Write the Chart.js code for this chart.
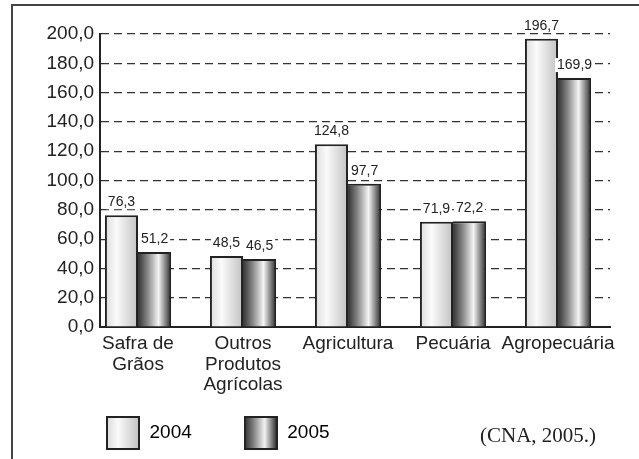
<!DOCTYPE html>
<html>
<head>
<meta charset="utf-8">
<script src="https://cdn.jsdelivr.net/npm/chart.js@4.4.1/dist/chart.umd.min.js"></script>
<style>
    body { margin: 0; background: #fff; }
    #wrap { position: relative; width: 639px; height: 459px; overflow: hidden; background: #fff; }
    #frame { position: absolute; left: 11px; top: 4px; width: 700px; height: 500px;
             border-top: 2px solid #444; border-left: 2px solid #444; }
    #chart { position: absolute; left: 0; top: 0; }
    #source { position: absolute; left: 480px; top: 425px; font: 21px "Liberation Serif", "Times New Roman", serif;
              line-height: 21px; color: #222; white-space: nowrap; }
</style>
</head>
<body>
<div id="wrap">
    <div id="frame"></div>
    <canvas id="chart" width="639" height="459"></canvas>
    <div id="source">(CNA, 2005.)</div>
</div>
<script>
const categories = [['Safra de', 'Grãos'], ['Outros', 'Produtos', 'Agrícolas'], 'Agricultura', 'Pecuária', 'Agropecuária'];
const seriesNames = ['2004', '2005'];
const values2004 = [76.3, 48.5, 124.8, 71.9, 196.7];
const values2005 = [51.2, 46.5, 97.7, 72.2, 169.9];
const yMin = 0;
const yMax = 200;
const yStep = 20;

const CAT_PCT = 0.63;
const stops2004 = [[0, '#dcdcdc'], [0.35, '#fafafa'], [1, '#c2c2c2']];
const stops2005 = [[0, '#333'], [0.3, '#8a8a8a'], [0.62, '#f4f4f4'], [0.85, '#7a7a7a'], [1, '#2a2a2a']];

const fmt = v => v.toFixed(1).replace('.', ',');

Chart.defaults.font.family = '"Liberation Sans", Arial, sans-serif';
Chart.defaults.color = '#222';

function barFill(stops) {
    return (ctx) => {
        const chart = ctx.chart;
        const x = chart.scales.x;
        if (ctx.type !== 'data' || !chart.chartArea || !x) return stops[1][1];
        const step = x.getPixelForValue(1) - x.getPixelForValue(0);
        const w = step * CAT_PCT / 2;
        const left = x.getPixelForValue(ctx.dataIndex) - w + ctx.datasetIndex * w;
        const g = chart.ctx.createLinearGradient(left, 0, left + w, 0);
        stops.forEach(([o, c]) => g.addColorStop(o, c));
        return g;
    };
}

function swatch(stops) {
    const c = document.createElement('canvas');
    c.width = 34;
    c.height = 34;
    const g2 = c.getContext('2d');
    const grad = g2.createLinearGradient(1, 0, 33, 0);
    stops.forEach(([o, col]) => grad.addColorStop(o, col));
    g2.fillStyle = grad;
    g2.fillRect(1, 1, 32, 32);
    g2.strokeStyle = '#222';
    g2.lineWidth = 2;
    g2.strokeRect(1, 1, 32, 32);
    return c;
}

const swatches = [swatch(stops2004), swatch(stops2005)];

// value labels with a white box behind, like the printed chart
const valueLabels = {
    id: 'valueLabels',
    afterDatasetsDraw(chart) {
        const ctx = chart.ctx;
        ctx.save();
        ctx.font = '14px "Liberation Sans", Arial, sans-serif';
        ctx.textAlign = 'center';
        ctx.textBaseline = 'middle';
        chart.data.datasets.forEach((ds, di) => {
            chart.getDatasetMeta(di).data.forEach((el, i) => {
                const text = fmt(ds.data[i].y);
                const w = ctx.measureText(text).width;
                const y = el.y - 13;
                ctx.fillStyle = '#fff';
                ctx.fillRect(el.x - w / 2 - 2, y - 7, w + 4, 14);
                ctx.fillStyle = '#222';
                ctx.fillText(text, el.x, y);
            });
        });
        ctx.restore();
    }
};

new Chart(document.getElementById('chart'), {
    type: 'bar',
    data: {
        datasets: [
            {
                label: seriesNames[0],
                data: values2004.map((v, i) => ({ x: i, y: v })),
                backgroundColor: barFill(stops2004),
                borderColor: '#222',
                borderWidth: 2
            },
            {
                label: seriesNames[1],
                data: values2005.map((v, i) => ({ x: i, y: v })),
                backgroundColor: barFill(stops2005),
                borderColor: '#222',
                borderWidth: { top: 2, right: 2, left: 0, bottom: 0 }
            }
        ]
    },
    options: {
        responsive: false,
        animation: false,
        layout: { padding: { top: 34, left: 54, right: 29, bottom: 6.5 } },
        datasets: { bar: { categoryPercentage: CAT_PCT, barPercentage: 1 } },
        scales: {
            x: {
                type: 'linear',
                offset: false,
                min: -0.362,
                max: 4.495,
                afterBuildTicks: (scale) => { scale.ticks = categories.map((_, i) => ({ value: i })); },
                afterFit: (scale) => { scale.height = 44.5; },
                grid: { display: false, drawTicks: false, offset: false },
                border: { display: true, color: '#222', width: 2 },
                ticks: {
                    autoSkip: false,
                    maxRotation: 0,
                    minRotation: 0,
                    mirror: true,
                    padding: -26.9,
                    font: { size: 19, lineHeight: 1.1 },
                    callback: (v) => categories[v]
                }
            },
            y: {
                min: yMin,
                max: yMax,
                afterFit: (scale) => { scale.width = 46; },
                grid: { color: '#333', lineWidth: 1.2, drawTicks: false },
                border: { display: true, color: '#222', width: 2, dash: [8, 5] },
                ticks: {
                    stepSize: yStep,
                    mirror: true,
                    crossAlign: 'far',
                    padding: -53.5,
                    font: { size: 19 },
                    callback: (v) => fmt(v)
                }
            }
        },
        plugins: {
            tooltip: { enabled: false },
            legend: {
                position: 'bottom',
                align: 'start',
                labels: {
                    padding: 52,
                    usePointStyle: true,
                    pointStyleWidth: 34,
                    font: { size: 19 },
                    color: '#222',
                    generateLabels: (chart) => chart.data.datasets.map((ds, i) => ({
                        text: ds.label,
                        pointStyle: swatches[i],
                        fillStyle: '#fff',
                        strokeStyle: '#222',
                        lineWidth: 0,
                        hidden: false,
                        datasetIndex: i
                    }))
                }
            }
        }
    },
    plugins: [valueLabels]
});
</script>
</body>
</html>
